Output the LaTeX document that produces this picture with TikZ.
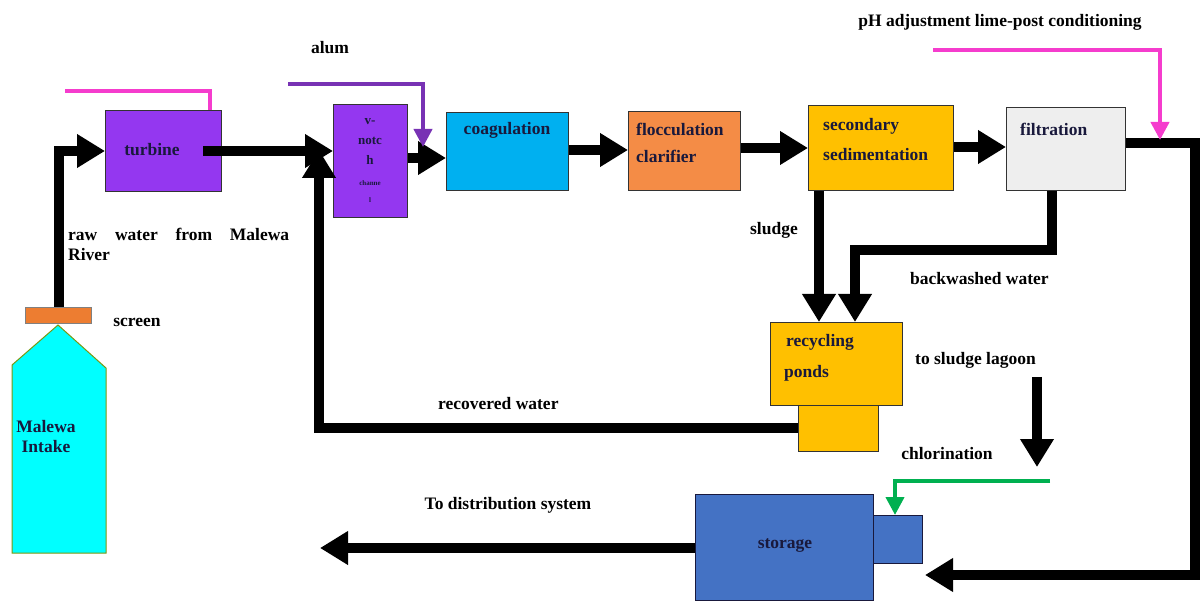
\documentclass[tikz,border=0pt]{standalone}
\usepackage{fontspec}
\setmainfont{Liberation Serif}
\usetikzlibrary{arrows.meta}
\definecolor{cpurple}{RGB}{148,55,240}
\definecolor{ccyanblue}{RGB}{0,176,240}
\definecolor{corange}{RGB}{244,140,70}
\definecolor{cgold}{RGB}{255,192,0}
\definecolor{cgray}{RGB}{238,238,238}
\definecolor{cblue}{RGB}{68,114,196}
\definecolor{caqua}{RGB}{0,255,255}
\definecolor{cscreen}{RGB}{237,125,49}
\definecolor{cmagenta}{RGB}{245,60,205}
\definecolor{calum}{RGB}{120,50,180}
\definecolor{cgreen}{RGB}{0,176,80}
\definecolor{ctext}{RGB}{25,25,60}
\begin{document}
\begin{tikzpicture}[x=1pt,y=-1pt,
  box/.style={draw=black!80, line width=1pt, inner sep=0pt, anchor=north west},
  lbl/.style={font=\bfseries\fontsize{17.5}{20}\selectfont, inner sep=0pt, text=black},
  blbl/.style={lbl, text=ctext},
  flow/.style={line width=10pt, draw=black, -{Triangle[length=28pt,width=32pt]}},
  feed/.style={line width=4pt},
  feedarrow/.style={line width=4pt, -{Triangle[length=18pt,width=18pt]}},
]
\useasboundingbox (0,0) rectangle (1202,601);

% boxes
\node[box, fill=cpurple, minimum width=116pt, minimum height=81pt] (turbine) at (105,110) {};
\node[box, fill=cpurple, minimum width=74pt, minimum height=113pt] (vnotch) at (333,104) {};
\node[box, fill=ccyanblue, minimum width=122pt, minimum height=78pt] (coag) at (446,112) {};
\node[box, fill=corange, minimum width=112pt, minimum height=79pt] (floc) at (628,111) {};
\node[box, fill=cgold, minimum width=145pt, minimum height=85pt] (sed) at (808,105) {};
\node[box, fill=cgray, minimum width=119pt, minimum height=83pt] (filt) at (1006,107) {};
\node[box, fill=cgold, minimum width=80pt, minimum height=46pt] (pondbase) at (798,405) {};
\node[box, fill=cgold, minimum width=132pt, minimum height=83pt] (ponds) at (770,322) {};
\node[box, fill=cblue, draw=ctext, minimum width=178pt, minimum height=106pt] (storage) at (695,494) {};
\node[box, fill=cblue, draw=ctext, minimum width=49pt, minimum height=48pt] (stsmall) at (873,515) {};

% intake
\draw[draw=olive!70!green, fill=caqua, line width=1pt] (58,325) -- (12,365) -- (12,553) -- (106,553) -- (106,368) -- cycle;
\node[box, fill=cscreen, draw=gray, minimum width=66pt, minimum height=16pt] (screen) at (25,307) {};

% coordinates
\coordinate (join) at (319,150);
\coordinate (corner1) at (1195,143);
\coordinate (corner2) at (1195,575);
\coordinate (stin) at (925,575);
\coordinate (lagA) at (1037,377);
\coordinate (lagB) at (1037,467);
\coordinate (distend) at (320,548);
\coordinate (bwA) at (1052,250);
\coordinate (bwB) at (855,250);
\coordinate (recA) at (319,428);

% main flows
\draw[flow] (screen.north) |- (turbine.west);
\draw[flow] ([xshift=-19pt]turbine.east) -- (vnotch.west |- turbine.east);
\draw[flow] (pondbase.west |- recA) -- (recA) -- (join);
\draw[flow] (vnotch.east |- 0,158) -- (coag.west |- 0,158);
\draw[flow] (coag.east |- 0,150) -- (floc.west |- 0,150);
\draw[flow] (floc.east |- 0,148) -- (sed.west |- 0,148);
\draw[flow] (sed.east |- 0,147) -- (filt.west |- 0,147);
\draw[flow] (filt.east |- corner1) -- (corner1) -- (corner2) -- (stin);
\draw[flow] (sed.south -| 819,0) -- (ponds.north -| 819,0);
\draw[flow] (filt.south -| bwA) -- (bwA) -- (bwB) -- (ponds.north -| bwB);
\draw[flow] (lagA) -- (lagB);
\draw[flow] (storage.west |- distend) -- (distend);

% chemical feeds
\coordinate (magA) at (65,91);
\coordinate (magB) at (210,91);
\draw[feed, cmagenta] (magA) -- (magB) -- (turbine.north -| magB);
\coordinate (phA) at (933,50);
\coordinate (phB) at (1160,50);
\coordinate (phC) at (1160,140);
\draw[feedarrow, cmagenta] (phA) -- (phB) -- (phC);
\coordinate (alA) at (288,84);
\coordinate (alB) at (423,84);
\coordinate (alC) at (423,147);
\draw[feedarrow, calum] (alA) -- (alB) -- (alC);
\coordinate (grA) at (1050,481);
\coordinate (grB) at (895,481);
\draw[feedarrow, cgreen] (grA) -- (grB) -- (stsmall.north -| grB);

% labels
\node[lbl] (talum) at (330,48) {alum};
\node[lbl] (tph) at (1000,22) {pH adjustment lime-post conditioning};
\node[blbl] (tturb) at (152,150) {turbine};
\node[blbl, font=\bfseries\fontsize{13}{15}\selectfont] (tv1) at (370,122) {v-};
\node[blbl, font=\bfseries\fontsize{13}{15}\selectfont] (tv2) at (370,141) {notc};
\node[blbl, font=\bfseries\fontsize{13}{15}\selectfont] (tv3) at (370,160) {h};
\node[blbl, font=\bfseries\fontsize{7}{8}\selectfont] (tv4) at (370,183) {channe};
\node[blbl, font=\bfseries\fontsize{7}{8}\selectfont] (tv5) at (370,200) {l};
\node[blbl] (tcoag) at (507,130) {coagulation};
\node[blbl, anchor=west] (tfloc1) at (636,129) {flocculation};
\node[blbl, anchor=west] (tfloc2) at (636,156) {clarifier};
\node[blbl, anchor=west] (tsed1) at (823,126) {secondary};
\node[blbl, anchor=west] (tsed2) at (823,155) {sedimentation};
\node[blbl, anchor=west] (tfilt) at (1020,129) {filtration};
\node[lbl] (tsludge) at (774,230) {sludge};
\node[lbl, anchor=west] (tback) at (910,279) {backwashed water};
\node[lbl, anchor=north west, align=left] (traw) at (68,228) {\makebox[221pt][s]{raw water from Malewa}\\River};
\node[lbl] (tscreen) at (137,322) {screen};
\node[blbl, align=center] (tintake) at (46,437) {Malewa\\Intake};
\node[blbl, anchor=west] (trec1) at (786,342) {recycling};
\node[blbl, anchor=west] (trec2) at (784,373) {ponds};
\node[lbl, anchor=west] (tlagoon) at (915,360) {to sludge lagoon};
\node[lbl, anchor=west] (trecov) at (438,404) {recovered water};
\node[lbl] (tchlor) at (947,454) {chlorination};
\node[lbl] (tdist) at (508,505) {To distribution system};
\node[blbl] (tstor) at (785,546) {storage};
\end{tikzpicture}
\end{document}
